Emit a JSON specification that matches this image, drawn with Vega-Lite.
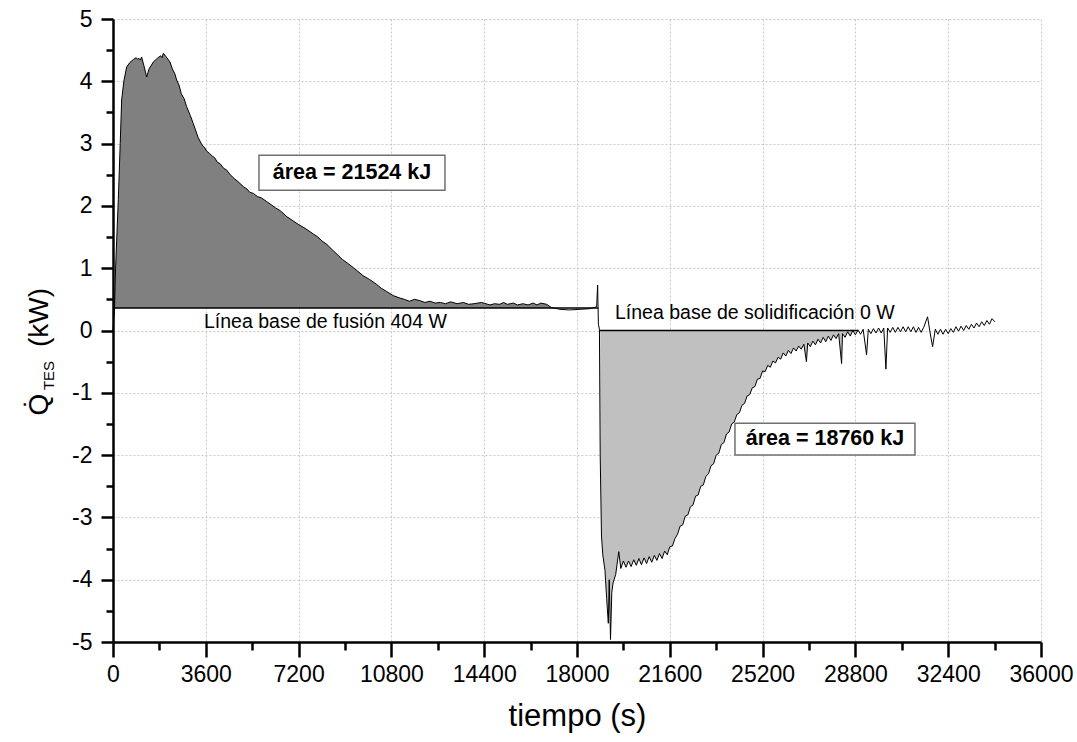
{
  "$schema": "https://vega.github.io/schema/vega-lite/v6.json",
  "width": 928,
  "height": 623,
  "autosize": {"type": "none"},
  "padding": {"left": 113, "top": 19, "right": 36, "bottom": 100},
  "background": "white",
  "config": {"view": {"stroke": null}, "font": "Liberation Sans"},
  "datasets": {
    "curve": [
      {"t": 0, "q": 0.0}, {"t": 60, "q": 0.36}, {"t": 100, "q": 1.0}, {"t": 206, "q": 2.1}, {"t": 280, "q": 3.0},
      {"t": 336, "q": 3.7}, {"t": 420, "q": 4.0}, {"t": 530, "q": 4.23}, {"t": 650, "q": 4.3}, {"t": 790, "q": 4.35},
      {"t": 900, "q": 4.38}, {"t": 960, "q": 4.35}, {"t": 1000, "q": 4.37}, {"t": 1060, "q": 4.34}, {"t": 1110, "q": 4.39}, {"t": 1200, "q": 4.25}, {"t": 1306, "q": 4.07},
      {"t": 1400, "q": 4.2}, {"t": 1565, "q": 4.31}, {"t": 1750, "q": 4.38}, {"t": 1850, "q": 4.41}, {"t": 1900, "q": 4.38}, {"t": 1953, "q": 4.45}, {"t": 2050, "q": 4.4},
      {"t": 2211, "q": 4.31}, {"t": 2300, "q": 4.2}, {"t": 2400, "q": 4.12}, {"t": 2470, "q": 4.02}, {"t": 2560, "q": 3.94}, {"t": 2650, "q": 3.8}, {"t": 2760, "q": 3.72}, {"t": 2858, "q": 3.59},
      {"t": 3000, "q": 3.45}, {"t": 3116, "q": 3.32}, {"t": 3200, "q": 3.22}, {"t": 3300, "q": 3.1}, {"t": 3450, "q": 2.98}, {"t": 3550, "q": 2.94}, {"t": 3633, "q": 2.88},
      {"t": 3750, "q": 2.84}, {"t": 3850, "q": 2.8}, {"t": 3950, "q": 2.77}, {"t": 4050, "q": 2.7}, {"t": 4150, "q": 2.68}, {"t": 4300, "q": 2.6}, {"t": 4400, "q": 2.58}, {"t": 4550, "q": 2.5}, {"t": 4700, "q": 2.44}, {"t": 4850, "q": 2.39}, {"t": 5055, "q": 2.31},
      {"t": 5200, "q": 2.27}, {"t": 5300, "q": 2.22}, {"t": 5450, "q": 2.2}, {"t": 5600, "q": 2.15}, {"t": 5750, "q": 2.13}, {"t": 5960, "q": 2.07}, {"t": 6100, "q": 2.03}, {"t": 6300, "q": 1.97}, {"t": 6500, "q": 1.92}, {"t": 6736, "q": 1.83},
      {"t": 6950, "q": 1.77}, {"t": 7200, "q": 1.7}, {"t": 7450, "q": 1.64}, {"t": 7770, "q": 1.55}, {"t": 7950, "q": 1.5}, {"t": 8100, "q": 1.44}, {"t": 8300, "q": 1.38}, {"t": 8545, "q": 1.28}, {"t": 8700, "q": 1.22}, {"t": 8900, "q": 1.14},
      {"t": 9100, "q": 1.08}, {"t": 9321, "q": 1.01}, {"t": 9500, "q": 0.95}, {"t": 9700, "q": 0.88}, {"t": 9950, "q": 0.82}, {"t": 10228, "q": 0.74}, {"t": 10400, "q": 0.68}, {"t": 10600, "q": 0.63}, {"t": 10873, "q": 0.56},
      {"t": 11133, "q": 0.52}, {"t": 11300, "q": 0.5}, {"t": 11500, "q": 0.47}, {"t": 11700, "q": 0.5}, {"t": 11900, "q": 0.48}, {"t": 12100, "q": 0.45}, {"t": 12297, "q": 0.47}, {"t": 12500, "q": 0.44}, {"t": 12700, "q": 0.45},
      {"t": 12900, "q": 0.43}, {"t": 13100, "q": 0.46}, {"t": 13350, "q": 0.43}, {"t": 13590, "q": 0.45}, {"t": 13800, "q": 0.42}, {"t": 14000, "q": 0.43}, {"t": 14300, "q": 0.45}, {"t": 14624, "q": 0.41},
      {"t": 14800, "q": 0.43}, {"t": 15000, "q": 0.42}, {"t": 15150, "q": 0.45}, {"t": 15300, "q": 0.42}, {"t": 15529, "q": 0.44}, {"t": 15700, "q": 0.41}, {"t": 15900, "q": 0.43}, {"t": 16100, "q": 0.41}, {"t": 16300, "q": 0.44},
      {"t": 16450, "q": 0.41}, {"t": 16600, "q": 0.44}, {"t": 16823, "q": 0.42}, {"t": 17000, "q": 0.37}, {"t": 17340, "q": 0.34}, {"t": 17700, "q": 0.33},
      {"t": 18116, "q": 0.34}, {"t": 18500, "q": 0.35}, {"t": 18763, "q": 0.38}, {"t": 18800, "q": 0.73}, {"t": 18830, "q": 0.1},
      {"t": 18870, "q": 0.02}, {"t": 18900, "q": -2.0}, {"t": 18950, "q": -3.3}, {"t": 19000, "q": -3.6}, {"t": 19085, "q": -3.85},
      {"t": 19150, "q": -4.3}, {"t": 19215, "q": -4.7}, {"t": 19250, "q": -4.0}, {"t": 19300, "q": -4.96}, {"t": 19350, "q": -4.2},
      {"t": 19400, "q": -4.05}, {"t": 19500, "q": -3.92}, {"t": 19620, "q": -3.55}, {"t": 19700, "q": -3.82}, {"t": 19800, "q": -3.7}, {"t": 19900, "q": -3.8},
      {"t": 20000, "q": -3.7}, {"t": 20100, "q": -3.79}, {"t": 20200, "q": -3.68}, {"t": 20300, "q": -3.77}, {"t": 20400, "q": -3.66}, {"t": 20500, "q": -3.76},
      {"t": 20600, "q": -3.65}, {"t": 20700, "q": -3.74}, {"t": 20800, "q": -3.63}, {"t": 20900, "q": -3.72}, {"t": 21000, "q": -3.61}, {"t": 21100, "q": -3.69},
      {"t": 21200, "q": -3.58}, {"t": 21300, "q": -3.66}, {"t": 21400, "q": -3.54}, {"t": 21500, "q": -3.6}, {"t": 21600, "q": -3.47}, {"t": 21700, "q": -3.46},
      {"t": 21800, "q": -3.34}, {"t": 21900, "q": -3.27}, {"t": 22000, "q": -3.14}, {"t": 22100, "q": -3.12}, {"t": 22200, "q": -2.98}, {"t": 22300, "q": -2.96},
      {"t": 22400, "q": -2.83}, {"t": 22500, "q": -2.8}, {"t": 22600, "q": -2.66}, {"t": 22700, "q": -2.64}, {"t": 22800, "q": -2.5}, {"t": 22900, "q": -2.48},
      {"t": 23000, "q": -2.34}, {"t": 23100, "q": -2.3}, {"t": 23200, "q": -2.17}, {"t": 23300, "q": -2.14}, {"t": 23400, "q": -2.0}, {"t": 23500, "q": -1.97},
      {"t": 23600, "q": -1.83}, {"t": 23700, "q": -1.8}, {"t": 23800, "q": -1.66}, {"t": 23900, "q": -1.63}, {"t": 24000, "q": -1.5}, {"t": 24100, "q": -1.47},
      {"t": 24200, "q": -1.35}, {"t": 24300, "q": -1.32}, {"t": 24400, "q": -1.2}, {"t": 24500, "q": -1.17}, {"t": 24600, "q": -1.05}, {"t": 24700, "q": -1.03},
      {"t": 24800, "q": -0.92}, {"t": 24900, "q": -0.9}, {"t": 25000, "q": -0.78}, {"t": 25100, "q": -0.77}, {"t": 25200, "q": -0.65}, {"t": 25300, "q": -0.66},
      {"t": 25400, "q": -0.56}, {"t": 25500, "q": -0.59}, {"t": 25600, "q": -0.49}, {"t": 25700, "q": -0.52}, {"t": 25800, "q": -0.43}, {"t": 25900, "q": -0.46},
      {"t": 26000, "q": -0.36}, {"t": 26100, "q": -0.41}, {"t": 26200, "q": -0.32}, {"t": 26300, "q": -0.37}, {"t": 26400, "q": -0.28}, {"t": 26500, "q": -0.33},
      {"t": 26600, "q": -0.25}, {"t": 26700, "q": -0.3}, {"t": 26800, "q": -0.22}, {"t": 26900, "q": -0.5}, {"t": 26950, "q": -0.2}, {"t": 27050, "q": -0.26},
      {"t": 27150, "q": -0.17}, {"t": 27250, "q": -0.23}, {"t": 27350, "q": -0.14}, {"t": 27450, "q": -0.2}, {"t": 27550, "q": -0.11}, {"t": 27650, "q": -0.18},
      {"t": 27750, "q": -0.09}, {"t": 27850, "q": -0.16}, {"t": 27950, "q": -0.07}, {"t": 28050, "q": -0.13}, {"t": 28150, "q": -0.05}, {"t": 28265, "q": -0.53},
      {"t": 28300, "q": -0.05}, {"t": 28400, "q": -0.11}, {"t": 28500, "q": -0.02}, {"t": 28600, "q": -0.09}, {"t": 28700, "q": 0.0}, {"t": 28800, "q": -0.07},
      {"t": 28900, "q": 0.01}, {"t": 29000, "q": -0.06}, {"t": 29100, "q": 0.02}, {"t": 29234, "q": -0.39}, {"t": 29300, "q": 0.02}, {"t": 29400, "q": -0.05},
      {"t": 29500, "q": 0.03}, {"t": 29600, "q": -0.04}, {"t": 29700, "q": 0.04}, {"t": 29800, "q": -0.04}, {"t": 29900, "q": 0.04}, {"t": 29984, "q": -0.62},
      {"t": 30050, "q": 0.04}, {"t": 30150, "q": -0.03}, {"t": 30250, "q": 0.05}, {"t": 30350, "q": -0.03}, {"t": 30450, "q": 0.05}, {"t": 30550, "q": -0.02},
      {"t": 30650, "q": 0.06}, {"t": 30750, "q": -0.02}, {"t": 30850, "q": 0.06}, {"t": 30950, "q": -0.02}, {"t": 31050, "q": 0.06}, {"t": 31150, "q": -0.03},
      {"t": 31250, "q": 0.05}, {"t": 31350, "q": -0.03}, {"t": 31450, "q": 0.05}, {"t": 31600, "q": 0.22}, {"t": 31700, "q": -0.04}, {"t": 31794, "q": -0.26},
      {"t": 31900, "q": 0.02}, {"t": 32000, "q": -0.06}, {"t": 32100, "q": 0.02}, {"t": 32200, "q": -0.06}, {"t": 32300, "q": 0.02}, {"t": 32400, "q": -0.05},
      {"t": 32500, "q": 0.03}, {"t": 32600, "q": -0.03}, {"t": 32700, "q": 0.06}, {"t": 32800, "q": -0.01}, {"t": 32900, "q": 0.07}, {"t": 33000, "q": 0.0},
      {"t": 33100, "q": 0.08}, {"t": 33200, "q": 0.02}, {"t": 33300, "q": 0.1}, {"t": 33400, "q": 0.04}, {"t": 33500, "q": 0.12}, {"t": 33600, "q": 0.06},
      {"t": 33700, "q": 0.14}, {"t": 33800, "q": 0.08}, {"t": 33900, "q": 0.16}, {"t": 34000, "q": 0.1}, {"t": 34100, "q": 0.19}, {"t": 34212, "q": 0.14}
    ],
    "baselines": [
      {"t1": 0, "t2": 18830, "q": 0.36},
      {"t1": 18880, "t2": 28900, "q": 0}
    ],
    "boxes": [
      {"t1": 5663, "t2": 12878, "q1": 2.815, "q2": 2.253},
      {"t1": 24128, "t2": 31110, "q1": -1.49, "q2": -2.0}
    ],
    "areaLabels": [
      {"t": 9271, "q": 2.53, "label": "área = 21524 kJ"},
      {"t": 27619, "q": -1.745, "label": "área = 18760 kJ"}
    ],
    "baseLabels": [
      {"t": 3530, "q": 0.035, "label": "Línea base de fusión 404 W"},
      {"t": 19473, "q": 0.18, "label": "Línea base de solidificación 0 W"}
    ]
  },
  "layer": [
    {
      "data": {"name": "curve"},
      "transform": [{"filter": "datum.t <= 17000"}],
      "mark": {"type": "area", "color": "#808080", "opacity": 1},
      "encoding": {
        "x": {"field": "t", "type": "quantitative",
          "scale": {"domain": [0, 36000], "nice": false, "zero": false},
          "axis": {"orient": "bottom", "values": [0, 3600, 7200, 10800, 14400, 18000, 21600, 25200, 28800, 32400, 36000],
            "grid": false, "zindex": 1, "domainColor": "black", "domainWidth": 2.5, "tickColor": "black", "tickWidth": 2.5,
            "tickSize": 15, "labelFontSize": 23, "labelColor": "black", "labelPadding": 6, "labelFlush": false,
            "labelOverlap": false, "labelBound": false, "labelExpr": "'' + datum.value",
            "title": "tiempo (s)", "titleFontSize": 31, "titleFontWeight": "normal", "titleColor": "black",
            "titleBaseline": "alphabetic", "titleY": 83, "titleX": 464, "titleAlign": "center"}},
        "y": {"field": "q", "type": "quantitative",
          "scale": {"domain": [-5, 5], "nice": false, "zero": false},
          "axis": {"orient": "left", "values": [-5, -4, -3, -2, -1, 0, 1, 2, 3, 4, 5],
            "grid": false, "zindex": 1, "domainColor": "black", "domainWidth": 2.5, "tickColor": "black", "tickWidth": 2.5,
            "tickSize": 12, "labelFontSize": 23, "labelColor": "black", "labelPadding": 9, "labelExpr": "'' + datum.value",
            "labelOverlap": false, "labelBound": false, "labelFlush": false,
            "title": "(kW)", "titleFontSize": 28, "titleFontWeight": "normal", "titleColor": "black",
            "titleAngle": 270, "titleAlign": "center", "titleBaseline": "alphabetic", "titleX": -66, "titleY": 298}},
        "y2": {"datum": 0.36}
      }
    },
    {
      "data": {"name": "curve"},
      "transform": [{"filter": "datum.t >= 18880 && datum.t <= 28700"}],
      "mark": {"type": "area", "color": "#c0c0c0", "opacity": 1},
      "encoding": {
        "x": {"field": "t", "type": "quantitative",
          "scale": {"domain": [0, 36000], "nice": false, "zero": false},
          "axis": {"orient": "bottom", "values": [1800, 5400, 9000, 12600, 16200, 19800, 23400, 27000, 30600, 34200],
            "grid": false, "zindex": 1, "domain": false, "labels": false, "tickColor": "black", "tickWidth": 2.5,
            "tickSize": 8, "title": null}},
        "y": {"field": "q", "type": "quantitative",
          "scale": {"domain": [-5, 5], "nice": false, "zero": false},
          "axis": {"orient": "left", "values": [-4.5, -3.5, -2.5, -1.5, -0.5, 0.5, 1.5, 2.5, 3.5, 4.5],
            "grid": false, "zindex": 1, "domain": false, "labels": false, "tickColor": "black", "tickWidth": 2.5,
            "tickSize": 7,
            "title": "Q\u0307", "titleFontSize": 28, "titleFontWeight": "normal", "titleColor": "black",
            "titleAngle": 270, "titleAlign": "center", "titleBaseline": "alphabetic", "titleX": -66, "titleY": 385}},
        "y2": {"datum": 0}
      }
    },
    {
      "data": {"name": "baselines"},
      "mark": {"type": "rule", "color": "black", "strokeWidth": 1.5},
      "encoding": {
        "x": {"field": "t1", "type": "quantitative",
          "scale": {"domain": [0, 36000], "nice": false, "zero": false},
          "axis": {"orient": "bottom", "values": [0, 3600, 7200, 10800, 14400, 18000, 21600, 25200, 28800, 32400, 36000],
            "grid": true, "gridColor": "#c8c8c8", "gridDash": [2, 2], "gridWidth": 1, "zindex": 0,
            "domain": false, "ticks": false, "labels": false, "title": null}},
        "x2": {"field": "t2"},
        "y": {"field": "q", "type": "quantitative",
          "scale": {"domain": [-5, 5], "nice": false, "zero": false},
          "axis": {"orient": "left", "values": [-5, -4, -3, -2, -1, 0, 1, 2, 3, 4, 5],
            "grid": true, "gridColor": "#c8c8c8", "gridDash": [2, 2], "gridWidth": 1, "zindex": 0,
            "domain": false, "ticks": false, "labels": false,
            "title": "TES", "titleFontSize": 15, "titleFontWeight": "normal", "titleColor": "black",
            "titleAngle": 270, "titleAlign": "center", "titleBaseline": "alphabetic", "titleX": -60, "titleY": 356}}
      }
    },
    {
      "data": {"name": "curve"},
      "mark": {"type": "line", "color": "black", "strokeWidth": 1},
      "encoding": {
        "x": {"field": "t", "type": "quantitative", "scale": {"domain": [0, 36000], "nice": false, "zero": false}, "axis": null},
        "y": {"field": "q", "type": "quantitative", "scale": {"domain": [-5, 5], "nice": false, "zero": false}, "axis": null},
        "order": {"field": "t", "type": "quantitative"}
      }
    },
    {
      "data": {"name": "boxes"},
      "mark": {"type": "rect", "fill": "white", "stroke": "#707070", "strokeWidth": 1.5},
      "encoding": {
        "x": {"field": "t1", "type": "quantitative", "axis": null},
        "x2": {"field": "t2"},
        "y": {"field": "q1", "type": "quantitative", "axis": null},
        "y2": {"field": "q2"}
      }
    },
    {
      "data": {"name": "areaLabels"},
      "mark": {"type": "text", "fontSize": 21.5, "fontWeight": "bold", "color": "black", "align": "center", "baseline": "middle", "font": "Liberation Sans"},
      "encoding": {
        "x": {"field": "t", "type": "quantitative", "axis": null},
        "y": {"field": "q", "type": "quantitative", "axis": null},
        "text": {"field": "label"}
      }
    },
    {
      "data": {"name": "baseLabels"},
      "mark": {"type": "text", "fontSize": 19.5, "color": "black", "align": "left", "baseline": "alphabetic", "font": "Liberation Sans"},
      "encoding": {
        "x": {"field": "t", "type": "quantitative", "axis": null},
        "y": {"field": "q", "type": "quantitative", "axis": null},
        "text": {"field": "label"}
      }
    }
  ],
  "resolve": {"axis": {"x": "independent", "y": "independent"}}
}
